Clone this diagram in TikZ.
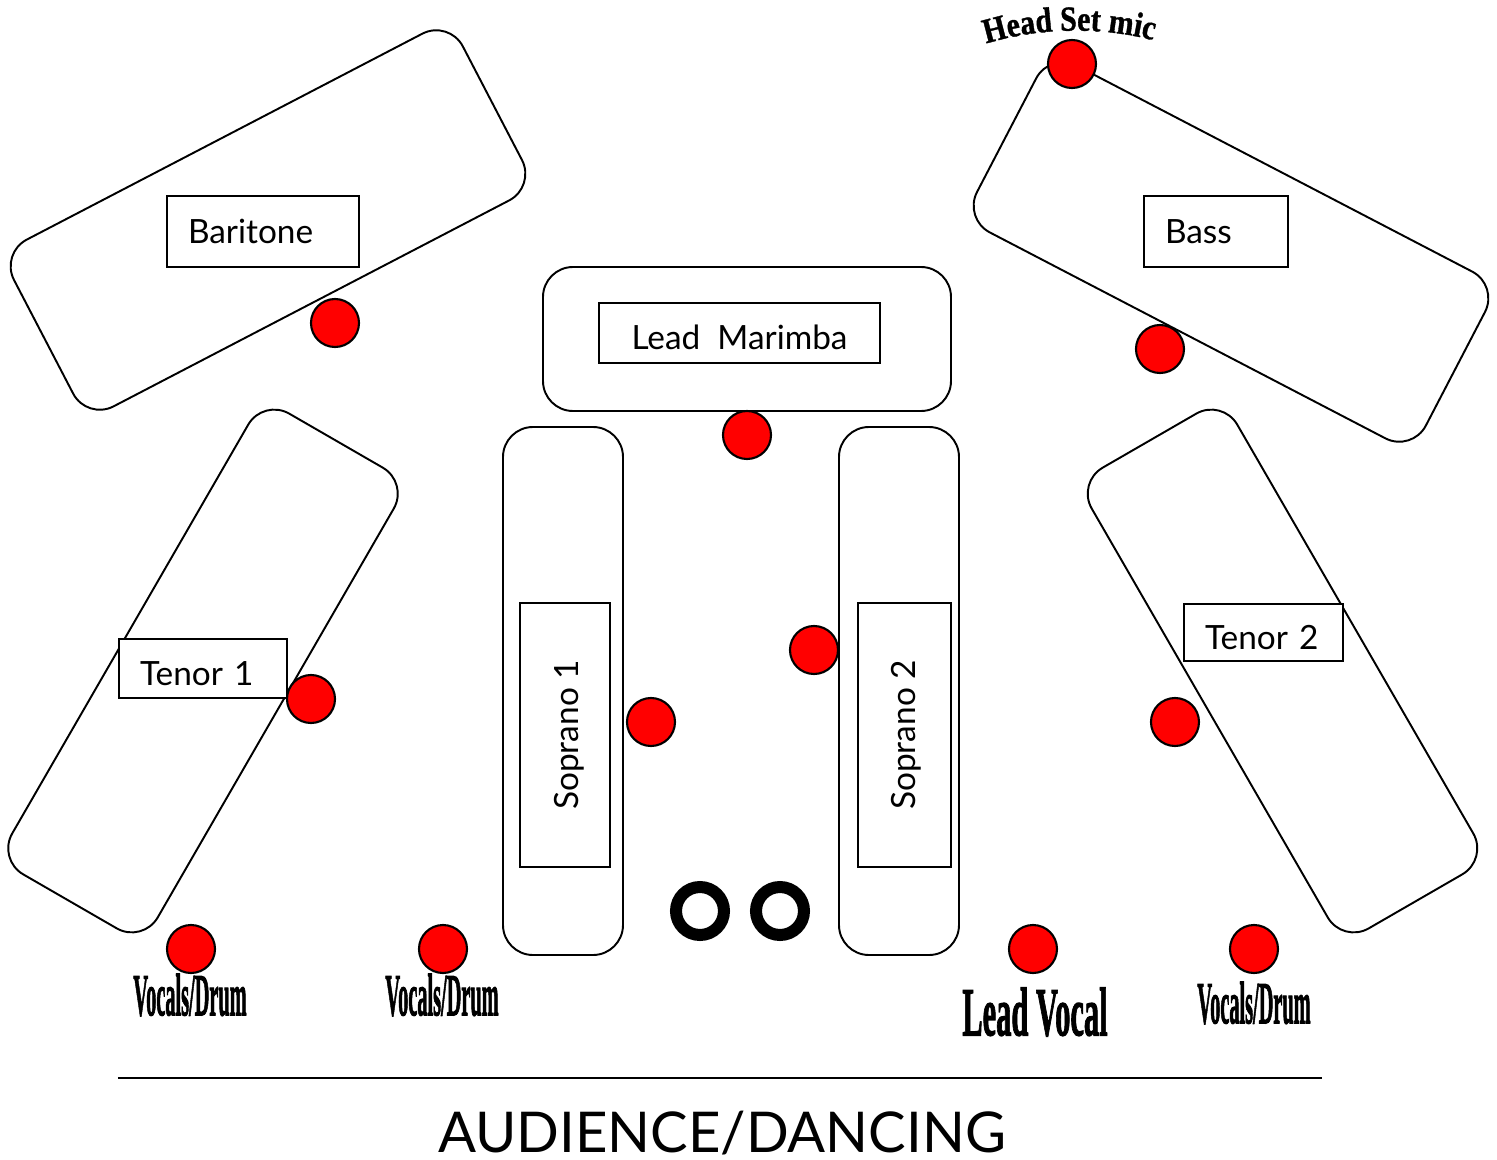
\documentclass[tikz,border=0pt]{standalone}
\usepackage{fontspec}
\setmainfont{Lato}
\newfontfamily\artfont{Liberation Serif Bold}[FakeBold=2]
\newfontfamily\headfont{Liberation Serif Bold}[FakeStretch=.85,FakeBold=1]
\usetikzlibrary{decorations.text}
\tikzset{
  platform/.style={draw,line width=.55pt,rounded corners=.3cm,inner sep=0pt},
  tag/.style={draw,fill=white,line width=.55pt,inner xsep=.21cm,inner ysep=0pt,align=left,font=\fontsize{9.5}{11}\selectfont},
  stag/.style={draw,fill=white,line width=.55pt,inner sep=0pt,align=center,font=\fontsize{9.5}{11}\selectfont},
  mic/.style={circle,draw,fill=red,line width=.6pt,minimum size=.48cm,inner sep=0pt},
  ring/.style={circle,draw,line width=.12cm,minimum size=.48cm,inner sep=0pt},
  art/.style={font=\artfont\fontsize{17}{17}\selectfont,transform shape,inner sep=0pt}
}
\begin{document}
\begin{tikzpicture}
\useasboundingbox (0,0) rectangle (14.97,-11.6);
\node[platform,minimum width=5.06cm,minimum height=1.88cm,rotate=27.5] (bariplat) at (2.68,-2.2) {};
\node[platform,minimum width=5.06cm,minimum height=1.88cm,rotate=-27.5] (bassplat) at (12.31,-2.52) {};
\node[platform,minimum width=5.32cm,minimum height=1.68cm,rotate=60] (ten1plat) at (2.03,-6.71) {};
\node[platform,minimum width=5.32cm,minimum height=1.68cm,rotate=-60] (ten2plat) at (12.825,-6.71) {};
\node[platform,minimum width=4.08cm,minimum height=1.44cm] (leadplat) at (7.47,-3.39) {};
\node[platform,minimum width=1.2cm,minimum height=5.28cm] (sop1plat) at (5.63,-6.91) {};
\node[platform,minimum width=1.2cm,minimum height=5.28cm] (sop2plat) at (8.99,-6.91) {};
% name tags
\node[tag,text width=1.5cm,minimum height=.71cm] (bari) at (2.63,-2.315) {Baritone};
\node[tag,text width=1.02cm,minimum height=.71cm] (bass) at (12.16,-2.315) {Bass};
\node[tag,text width=1.26cm,minimum height=.59cm,text height=.34cm] (ten1) at (2.03,-6.685) {\mbox{Tenor 1}};
\node[tag,text width=1.17cm,minimum height=.57cm,text height=.34cm] (ten2) at (12.635,-6.325) {\mbox{Tenor 2}};
\node[stag,minimum width=2.81cm,minimum height=.6cm,text height=.34cm] (lead) at (7.395,-3.33) {Lead\ \ Marimba};
\node[stag,minimum width=2.64cm,minimum height=.9cm,rotate=90,text height=.32cm] (sop1) at (5.65,-7.35) {Soprano 1};
\node[stag,minimum width=2.64cm,minimum height=.93cm,rotate=90,text height=.28cm] (sop2) at (9.045,-7.35) {Soprano 2};
% mics
\foreach \n/\x/\y in {micbari/3.35/3.23,michead/10.72/.64,micbass/11.6/3.49,miclead/7.47/4.35,micten1/3.11/6.99,micsop1/6.51/7.22,micsop2/8.14/6.5,micten2/11.75/7.22,micvd1/1.91/9.49,micvd2/4.43/9.49,micvoc/10.33/9.49,micvd3/12.54/9.49}{\node[mic] (\n) at (\x,-\y) {};}
\node[ring] (ringa) at (7,-9.11) {};
\node[ring] (ringb) at (7.8,-9.11) {};
% word art
\node[art,xscale=.34] (vd1) at (1.9,-9.95) {Vocals/Drum};
\node[art,xscale=.34] (vd2) at (4.42,-9.95) {Vocals/Drum};
\node[art,xscale=.34] (vd3) at (12.54,-10.03) {Vocals/Drum};
\node[art,xscale=.51,yscale=1.15] (voc) at (10.35,-10.12) {Lead Vocal};
\coordinate (heada) at (9.6,-.53);
\coordinate (headb) at (11.8,-.48);
\path[decorate,decoration={text along path,text align=center,text={|\headfont\fontsize{10}{10}\selectfont|Head Set mic}}] (heada) .. controls (10.3,-.24) and (11.1,-.24) .. (headb);
% audience
\coordinate (stagel) at (1.18,-10.78);
\coordinate (stager) at (13.22,-10.78);
\draw[line width=.55pt] (stagel) -- (stager);
\node[font=\fontsize{16}{18}\selectfont,inner sep=0pt,text height=.4cm,text depth=0pt] (aud) at (7.22,-11.32) {AUDIENCE/DANCING};
\end{tikzpicture}
\end{document}
